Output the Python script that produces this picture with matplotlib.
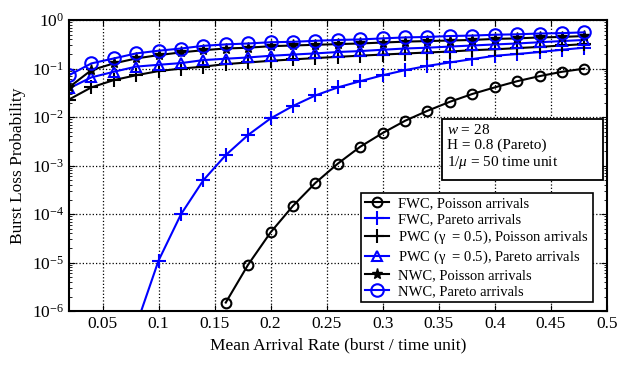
import numpy as np
import matplotlib
matplotlib.use('Agg')
import matplotlib.pyplot as plt
from matplotlib.patches import Rectangle
from matplotlib.ticker import LogLocator, NullFormatter, FixedLocator, LogFormatterSciNotation

plt.rcParams['font.family'] = ['Liberation Serif', 'DejaVu Serif']
plt.rcParams['mathtext.fontset'] = 'custom'
plt.rcParams['mathtext.rm'] = 'Liberation Serif'
plt.rcParams['mathtext.it'] = 'Liberation Serif:italic'

rate = [0.02, 0.04, 0.06, 0.08, 0.10, 0.12, 0.14, 0.16, 0.18, 0.20, 0.22, 0.24,
        0.26, 0.28, 0.30, 0.32, 0.34, 0.36, 0.38, 0.40, 0.42, 0.44, 0.46, 0.48]

# FWC, Poisson arrivals (starts at 0.16)
fwc_poisson_x = rate[7:]
fwc_poisson = [1.5e-6, 9.1e-6, 4.2e-5, 1.48e-4, 4.4e-4, 1.1e-3, 2.45e-3, 4.7e-3,
               8.4e-3, 1.35e-2, 2.07e-2, 3.0e-2, 4.1e-2, 5.5e-2, 7.0e-2, 8.6e-2, 1.0e-1]

# FWC, Pareto arrivals (starts at 0.08, first point below axis)
fwc_pareto_x = rate[3:]
fwc_pareto = [5e-7, 1.1e-5, 9.9e-5, 5e-4, 1.65e-3, 4.3e-3, 9.4e-3, 1.7e-2, 2.8e-2,
              4.1e-2, 5.5e-2, 7.3e-2, 9.3e-2, 0.114, 0.134, 0.157, 0.184, 0.20,
              0.22, 0.245, 0.27]

pwc_poisson = [0.023, 0.041, 0.058, 0.073, 0.089, 0.100, 0.110, 0.124, 0.134, 0.145,
               0.155, 0.165, 0.175, 0.185, 0.195, 0.205, 0.215, 0.225, 0.24, 0.25,
               0.265, 0.28, 0.30, 0.32]
pwc_pareto = [0.039, 0.066, 0.086, 0.110, 0.120, 0.130, 0.150, 0.160, 0.170, 0.184,
              0.195, 0.206, 0.22, 0.23, 0.245, 0.26, 0.27, 0.285, 0.30, 0.315,
              0.33, 0.35, 0.37, 0.39]
nwc_poisson = [0.041, 0.093, 0.128, 0.162, 0.190, 0.216, 0.240, 0.260, 0.270, 0.290,
               0.300, 0.310, 0.32, 0.33, 0.345, 0.36, 0.37, 0.38, 0.39, 0.41,
               0.42, 0.44, 0.45, 0.47]
nwc_pareto = [0.073, 0.128, 0.162, 0.206, 0.234, 0.260, 0.295, 0.316, 0.330, 0.350,
              0.357, 0.375, 0.39, 0.40, 0.42, 0.44, 0.45, 0.47, 0.48, 0.50,
              0.51, 0.53, 0.54, 0.56]

x_ticks = [0.05, 0.1, 0.15, 0.2, 0.25, 0.3, 0.35, 0.4, 0.45, 0.5]
x_ticklabels = ['0.05', '0.1', '0.15', '0.2', '0.25', '0.3', '0.35', '0.4', '0.45', '0.5']
y_ticks = [1e-6, 1e-5, 1e-4, 1e-3, 1e-2, 1e-1, 1e0]

fig = plt.figure(figsize=(6.38, 3.66), dpi=100)
ax = fig.add_axes([0.108, 0.150, 0.843, 0.795])

lw = 1.5
ax.plot(fwc_poisson_x, fwc_poisson, 'k-o', lw=lw, ms=7, mfc='none', mew=1.5,
        label='FWC, Poisson arrivals')
ax.plot(fwc_pareto_x, fwc_pareto, 'b-+', lw=lw, ms=10, mew=1.5,
        label='FWC, Pareto arrivals')
ax.plot(rate, pwc_poisson, 'k-+', lw=lw, ms=10, mew=1.5,
        label=r'PWC ($\mathregular{\gamma}$  = 0.5), Poisson arrivals')
ax.plot(rate, pwc_pareto, 'b-^', lw=lw, ms=7, mfc='none', mew=1.5,
        label=r'PWC ($\mathregular{\gamma}$  = 0.5), Pareto arrivals')
ax.plot(rate, nwc_poisson, 'k-*', lw=lw, ms=8, mew=1.0,
        label='NWC, Poisson arrivals')
ax.plot(rate, nwc_pareto, 'b-o', lw=lw, ms=9, mfc='none', mew=1.5,
        label='NWC, Pareto arrivals')

ax.set_yscale('log')
ax.set_xlim(0.02, 0.5)
ax.set_ylim(1e-6, 1)
ax.xaxis.set_major_locator(FixedLocator(x_ticks))
ax.set_xticklabels(x_ticklabels)
ax.yaxis.set_major_locator(FixedLocator(y_ticks))
ax.yaxis.set_major_formatter(LogFormatterSciNotation())
minor = [m * 10.0 ** e for e in range(-6, 0) for m in range(2, 10)]
ax.yaxis.set_minor_locator(FixedLocator(minor))
ax.yaxis.set_minor_formatter(NullFormatter())

ax.grid(True, which='major', color='black', linestyle=':', linewidth=0.9)
ax.tick_params(which='both', direction='in', top=True, right=True, labelsize=12.5)
ax.tick_params(which='major', length=4)
ax.tick_params(which='minor', length=2)
for s in ax.spines.values():
    s.set_linewidth(1.5)

ax.set_xlabel('Mean Arrival Rate (burst / time unit)', fontsize=12.5)
ax.set_ylabel('Burst Loss Probability', fontsize=12.5)

# parameter box
ax.add_patch(Rectangle((0.693, 0.450), 0.300, 0.210, transform=ax.transAxes,
                       fc='white', ec='black', lw=1.3, zorder=5))
ax.text(0.703, 0.648, '$w$ = 28\nH = 0.8 (Pareto)\n1/$\\mu$ = 50 time unit',
        transform=ax.transAxes, fontsize=11, va='top', ha='left', linespacing=1.2,
        zorder=6)

leg = ax.legend(loc='lower right', bbox_to_anchor=(0.974, 0.031), fontsize=10.5,
                fancybox=False, framealpha=1, edgecolor='black',
                handlelength=1.6, handletextpad=0.6, labelspacing=0.18,
                borderpad=0.3, borderaxespad=0.0)
leg.get_frame().set_linewidth(1.2)

fig.savefig('out.png', dpi=100)
